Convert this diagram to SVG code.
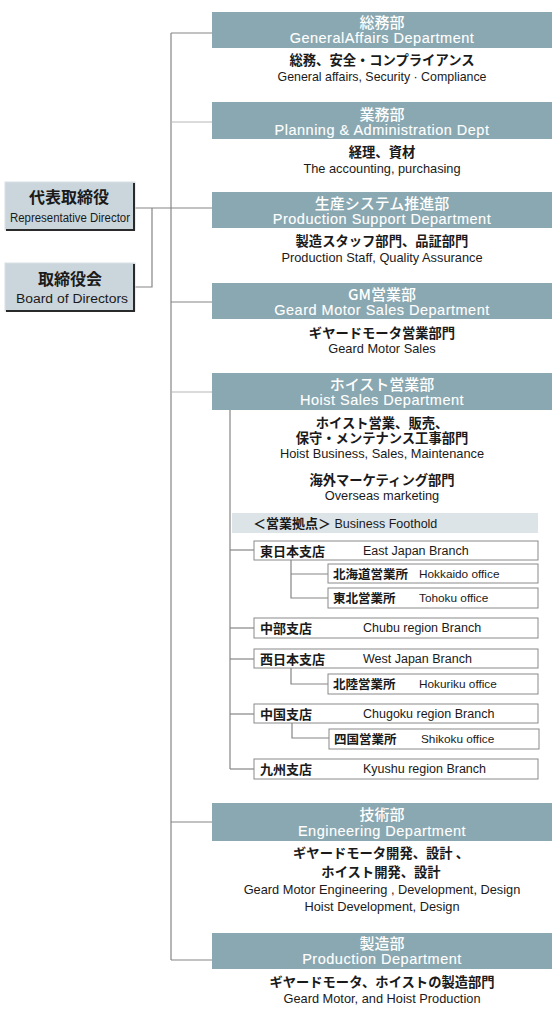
<svg xmlns="http://www.w3.org/2000/svg" width="560" height="1021" viewBox="0 0 560 1021">
<style>
.bg{fill:#ffffff}
.hd{fill:#8aa8b1}
.hj{font-family:"Noto Sans CJK JP","Liberation Sans",sans-serif;font-size:15px;font-weight:500;fill:#ffffff;text-anchor:middle}
.he{font-family:"Liberation Sans","Noto Sans",sans-serif;font-size:14.5px;letter-spacing:0.5px;fill:#ffffff;stroke:#ffffff;stroke-width:0.12;text-anchor:middle}
.dj{font-family:"Noto Sans CJK JP","Liberation Sans",sans-serif;font-size:13.3px;font-weight:bold;fill:#1a1a1a;text-anchor:middle}
.de{font-family:"Liberation Sans","Noto Sans",sans-serif;font-size:12.8px;fill:#1a1a1a;text-anchor:middle}
.ln{stroke:#858585;stroke-width:1.2;fill:none}
.ll{stroke:#b8b8b8;stroke-width:1.2;fill:none}
.top{fill:#cad6dc;stroke:#d8e0e4;stroke-width:1}
.sh{stroke:#2a2a2a;stroke-width:2;fill:none}
.tj{font-family:"Noto Sans CJK JP","Liberation Sans",sans-serif;font-size:16px;font-weight:bold;fill:#1a1a1a;text-anchor:middle}
.te{font-family:"Liberation Sans","Noto Sans",sans-serif;font-size:12.5px;fill:#1a1a1a;text-anchor:middle}
.br{fill:#ffffff;stroke:#8a8a8a;stroke-width:1}
.bj{font-family:"Noto Sans CJK JP","Liberation Sans",sans-serif;font-size:13px;font-weight:bold;fill:#1a1a1a}
.be{font-family:"Liberation Sans","Noto Sans",sans-serif;font-size:12.5px;fill:#1a1a1a}
.sj{font-family:"Noto Sans CJK JP","Liberation Sans",sans-serif;font-size:12.5px;font-weight:bold;fill:#1a1a1a}
.se{font-family:"Liberation Sans","Noto Sans",sans-serif;font-size:11.8px;fill:#1a1a1a}
.fb{fill:#dde4e8}
</style>
<rect class="bg" x="0" y="0" width="560" height="1021"/>

<g id="connectors">
  <path class="ln" d="M171,33 V960"/>
  <path class="ln" d="M171,33 H212"/>
  <path class="ll" d="M171,122 H212"/>
  <path class="ln" d="M135,208 H212"/>
  <path class="ln" d="M135,287 H152 V208"/>
  <path class="ln" d="M171,302 H212"/>
  <path class="ll" d="M171,392 H212"/>
  <path class="ln" d="M171,822 H212"/>
  <path class="ln" d="M171,960 H212"/>
  <path class="ln" d="M230,410 V769"/>
  <path class="ln" d="M230,550 H254"/>
  <path class="ln" d="M230,628 H254"/>
  <path class="ln" d="M230,659 H254"/>
  <path class="ln" d="M230,714 H254"/>
  <path class="ln" d="M230,769 H254"/>
  <path class="ln" d="M291,560 V598 H328"/>
  <path class="ln" d="M291,574 H328"/>
  <path class="ln" d="M291,668 V684 H328"/>
  <path class="ln" d="M292,723 V738 H329"/>
</g>

<g id="rep-director">
  <rect class="top" x="5" y="182" width="130" height="48"/>
  <path class="sh" d="M134,183 V230 H6"/>
  <text class="tj" x="69" y="203">代表取締役</text>
  <text class="te" x="70" y="222" textLength="120" lengthAdjust="spacingAndGlyphs">Representative Director</text>
</g>
<g id="board">
  <rect class="top" x="5" y="263" width="130" height="48"/>
  <path class="sh" d="M134,264 V311 H6"/>
  <text class="tj" x="70" y="285">取締役会</text>
  <text class="te" x="72" y="303" textLength="112" lengthAdjust="spacingAndGlyphs">Board of Directors</text>
</g>

<g id="general-affairs">
  <rect class="hd" x="212" y="12" width="340" height="36"/>
  <text class="hj" x="382" y="28">総務部</text>
  <text class="he" x="382" y="43">GeneralAffairs Department</text>
  <text class="dj" x="382" y="65">総務、安全・コンプライアンス</text>
  <text class="de" x="382" y="81" textLength="209" lengthAdjust="spacingAndGlyphs">General affairs, Security · Compliance</text>
</g>
<g id="planning">
  <rect class="hd" x="212" y="102" width="340" height="37"/>
  <text class="hj" x="382" y="120">業務部</text>
  <text class="he" x="382" y="135">Planning &amp; Administration Dept</text>
  <text class="dj" x="382" y="157">経理、資材</text>
  <text class="de" x="382" y="173">The accounting, purchasing</text>
</g>
<g id="production-support">
  <rect class="hd" x="212" y="192" width="340" height="36"/>
  <text class="hj" x="382" y="209">生産システム推進部</text>
  <text class="he" x="382" y="224">Production Support Department</text>
  <text class="dj" x="382" y="246">製造スタッフ部門、品証部門</text>
  <text class="de" x="382" y="262">Production Staff, Quality Assurance</text>
</g>
<g id="gm-sales">
  <rect class="hd" x="212" y="283" width="340" height="36"/>
  <text class="hj" x="382" y="300">GM営業部</text>
  <text class="he" x="382" y="315">Geard Motor Sales Department</text>
  <text class="dj" x="382" y="338">ギヤードモータ営業部門</text>
  <text class="de" x="382" y="353">Geard Motor Sales</text>
</g>
<g id="hoist-sales">
  <rect class="hd" x="212" y="373" width="340" height="37"/>
  <text class="hj" x="382" y="390">ホイスト営業部</text>
  <text class="he" x="382" y="405">Hoist Sales Department</text>
  <text class="dj" x="382" y="428">ホイスト営業、販売、</text>
  <text class="dj" x="382" y="443">保守・メンテナンス工事部門</text>
  <text class="de" x="382" y="458">Hoist Business, Sales, Maintenance</text>
  <text class="dj" x="382" y="485">海外マーケティング部門</text>
  <text class="de" x="382" y="500">Overseas marketing</text>
</g>
<g id="business-foothold">
  <rect class="fb" x="232" y="513" width="306" height="20"/>
  <text class="bj" x="253" y="528">＜営業拠点＞<tspan class="be" font-weight="normal"> Business Foothold</tspan></text>
</g>
<g id="east-japan">
  <rect class="br" x="254" y="541" width="284" height="19"/>
  <text class="bj" x="260" y="556">東日本支店</text>
  <text class="be" x="363" y="555">East Japan Branch</text>
</g>
<g id="hokkaido">
  <rect class="br" x="328" y="564" width="210" height="19"/>
  <text class="sj" x="333" y="579">北海道営業所</text>
  <text class="se" x="419" y="578">Hokkaido office</text>
</g>
<g id="tohoku">
  <rect class="br" x="328" y="588" width="210" height="20"/>
  <text class="sj" x="333" y="603">東北営業所</text>
  <text class="se" x="419" y="602">Tohoku office</text>
</g>
<g id="chubu">
  <rect class="br" x="254" y="618" width="284" height="20"/>
  <text class="bj" x="260" y="633">中部支店</text>
  <text class="be" x="363" y="632">Chubu region Branch</text>
</g>
<g id="west-japan">
  <rect class="br" x="254" y="649" width="284" height="19"/>
  <text class="bj" x="260" y="664">西日本支店</text>
  <text class="be" x="363" y="663">West Japan Branch</text>
</g>
<g id="hokuriku">
  <rect class="br" x="328" y="674" width="210" height="20"/>
  <text class="sj" x="333" y="689">北陸営業所</text>
  <text class="se" x="419" y="688">Hokuriku office</text>
</g>
<g id="chugoku">
  <rect class="br" x="254" y="704" width="284" height="19"/>
  <text class="bj" x="260" y="719">中国支店</text>
  <text class="be" x="363" y="718">Chugoku region Branch</text>
</g>
<g id="shikoku">
  <rect class="br" x="329" y="729" width="210" height="20"/>
  <text class="sj" x="334" y="744">四国営業所</text>
  <text class="se" x="421" y="743">Shikoku office</text>
</g>
<g id="kyushu">
  <rect class="br" x="254" y="759" width="284" height="20"/>
  <text class="bj" x="260" y="774">九州支店</text>
  <text class="be" x="363" y="773">Kyushu region Branch</text>
</g>
<g id="engineering">
  <rect class="hd" x="212" y="803" width="340" height="38"/>
  <text class="hj" x="382" y="820">技術部</text>
  <text class="he" x="382" y="836">Engineering Department</text>
  <text class="dj" x="381" y="858">ギヤードモータ開発、設計 、</text>
  <text class="dj" x="381" y="877">ホイスト開発、設計</text>
  <text class="de" x="382" y="894">Geard Motor Engineering , Development, Design</text>
  <text class="de" x="382" y="911">Hoist Development, Design</text>
</g>
<g id="production">
  <rect class="hd" x="212" y="933" width="340" height="36"/>
  <text class="hj" x="382" y="949">製造部</text>
  <text class="he" x="382" y="964">Production Department</text>
  <text class="dj" x="382" y="987">ギヤードモータ、ホイストの製造部門</text>
  <text class="de" x="382" y="1003">Geard Motor, and Hoist Production</text>
</g>
</svg>
